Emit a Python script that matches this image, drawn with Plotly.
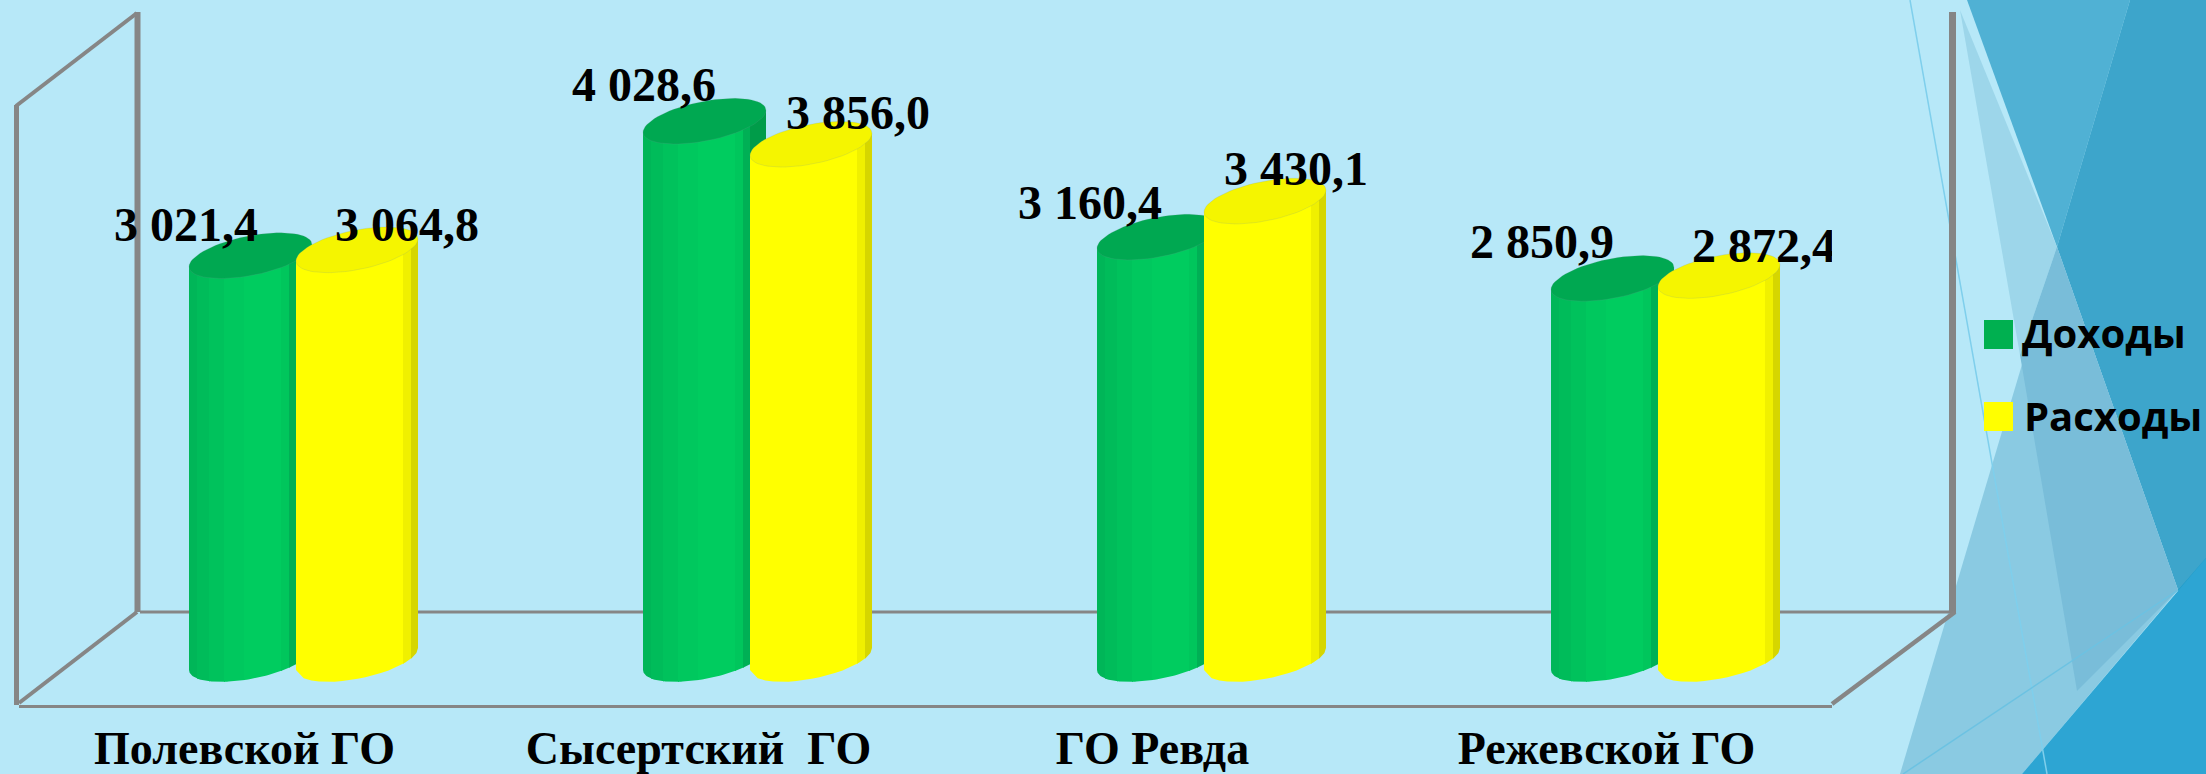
import math
import plotly.graph_objects as go

# ---------- data ----------
categories = ["Полевской ГО", "Сысертский  ГО", "ГО Ревда", "Режевской ГО"]
income = [3021.4, 4028.6, 3160.4, 2850.9]
expense = [3064.8, 3856.0, 3430.1, 2872.4]
income_labels = ["3 021,4", "4 028,6", "3 160,4", "2 850,9"]
expense_labels = ["3 064,8", "3 856,0", "3 430,1", "2 872,4"]
series_names = ["Доходы", "Расходы"]

# ---------- style / geometry (pixels of the 2206x774 page) ----------
W, H = 2206, 774
PL, PR, PT, PB = 19, 1832, 12, 705          # plot area
STEP = 454.0                                 # px per category
TICK0 = 244.5                                # px of first category
Y0_PX = 670.0                                # px of value 0
PX_PER_VAL = 0.1335

GREEN_BANDS = [(0, 8, "#00B658"), (8, 20, "#00BC5A"), (20, 35, "#00C25C"), (35, 55, "#00C85E"),
               (55, 92, "#00CC5F"), (92, 100, "#00C65C"), (100, 107, "#00B055"), (107, 123, "#009C49")]
YELLOW_BANDS = [(0, 107, "#FFFF00"), (107, 115, "#F0F000"), (115, 122, "#D6D600")]
GREEN_CAP, YELLOW_CAP = "#00A851", "#F5F500"
GREEN_LEFT, YELLOW_LEFT = -55.5, 51.5        # bar left edge vs tick, px
SHEAR, MINOR = 11.0, 20.0
INK = "#000000"
SERIF = "Liberation Serif"

GREEN_DX = [-58.5, -54.5, -62.5, -64.5]
YELLOW_DX = [162.5, 159.5, 143.5, 157.5]
GREEN_DY = [38, 43, 41, 43]
YELLOW_DY = [32, 38, 39, 37]


def xv(offset_px):
    return offset_px / STEP


def yv(offset_px):
    return offset_px / PX_PER_VAL


def rim(u, side):
    # px height above the left-corner level: centre is SHEAR above, tilts up to the right
    return SHEAR + SHEAR * u + side * MINOR * math.sqrt(max(0.0, 1 - u * u))


def band_polys(values, left, width, bands):
    traces = []
    for x1, x2, colour in bands:
        xs, ys = [], []
        x2o = min(x2 + 1, width)
        for i, v in enumerate(values):
            n = 14
            us = [-1 + 2 * (x1 + (x2o - x1) * k / n) / width for k in range(n + 1)]
            for u in us:
                xs.append(i + xv(left + (u + 1) * width / 2))
                ys.append(v + yv(SHEAR + SHEAR * u))
            for u in reversed(us):
                xs.append(i + xv(left + (u + 1) * width / 2))
                ys.append(yv(rim(u, -1)))
            xs.append(None)
            ys.append(None)
        traces.append(go.Scatter(x=xs, y=ys, mode="lines", fill="toself", fillcolor=colour,
                                 line=dict(width=0, color=colour), hoverinfo="skip", showlegend=False))
    return traces


def cap_trace(values, left, width, colour):
    xs, ys = [], []
    for i, v in enumerate(values):
        for k in range(73):
            t = 2 * math.pi * k / 72
            u, s = math.cos(t), math.sin(t)
            xs.append(i + xv(left + (u + 1) * width / 2))
            ys.append(v + yv(SHEAR + SHEAR * u + MINOR * s))
        xs.append(None)
        ys.append(None)
    return go.Scatter(x=xs, y=ys, mode="lines", fill="toself", fillcolor=colour,
                      line=dict(width=0.6, color="rgba(110,150,150,0.3)"),
                      hoverinfo="skip", showlegend=False)


def px(x):
    return (x - PL) / (PR - PL)


def py(y):
    return (PB - y) / (PB - PT)


def poly(points, colour):
    path = "M" + " L".join(f"{px(a):.5f},{py(b):.5f}" for a, b in points) + " Z"
    return dict(type="path", xref="paper", yref="paper", path=path, fillcolor=colour,
                line=dict(width=0), layer="below")


def seg(a, b, colour="#868686", width=3):
    return dict(type="line", xref="paper", yref="paper", x0=px(a[0]), y0=py(a[1]),
                x1=px(b[0]), y1=py(b[1]), line=dict(color=colour, width=width), layer="below")


fig = go.Figure()
for tr in band_polys(income, GREEN_LEFT, 123, GREEN_BANDS):
    fig.add_trace(tr)
fig.add_trace(cap_trace(income, GREEN_LEFT, 123, GREEN_CAP))
for tr in band_polys(expense, YELLOW_LEFT, 122, YELLOW_BANDS):
    fig.add_trace(tr)
fig.add_trace(cap_trace(expense, YELLOW_LEFT, 122, YELLOW_CAP))

idx = list(range(len(categories)))
fig.add_trace(go.Scatter(
    x=[i + xv(d) for i, d in zip(idx, GREEN_DX)] + [i + xv(d) for i, d in zip(idx, YELLOW_DX)],
    y=[v + yv(d) for v, d in zip(income, GREEN_DY)] + [v + yv(d) for v, d in zip(expense, YELLOW_DY)],
    text=income_labels + expense_labels, mode="text", textposition="middle center",
    textfont=dict(family=SERIF, size=48, color=INK, weight="bold"),
    hoverinfo="skip", showlegend=False))

shapes = [
    # decorative page background, right side
    poly([(1967, 0), (2130, 0), (2057, 247)], "#50B1D4"),
    poly([(2130, 0), (2206, 0), (2206, 661), (2178, 590), (2057, 247)], "#3DA5CB"),
    poly([(1960, 10), (2057, 247), (2020, 355)], "#9DD6EA"),
    poly([(2057, 247), (2178, 590), (2022, 774), (1900, 774)], "#8ACAE2"),
    poly([(2020, 355), (2057, 247), (2178, 590), (2077, 691)], "#79BDD9"),
    poly([(2178, 590), (2206, 558), (2206, 661)], "#1E9CC9"),
    poly([(2022, 774), (2206, 558), (2206, 774)], "#2DA5D3"),
    seg((1910, 0), (2047, 774), "#7FCFEC", 1.5),
    seg((1903, 774), (2178, 590), "#6CC2E2", 1.5),
    # chart walls and floor
    seg((137.5, 12), (137.5, 612), "#868686", 6),
    seg((16.5, 105), (16.5, 705), "#868686", 5),
    seg((16, 106), (137, 13), "#868686", 4),
    seg((19, 703), (137, 612), "#868686", 4),
    seg((140, 612), (1950, 612), "#868686", 3),
    seg((1952.5, 12), (1952.5, 613), "#858585", 7),
    seg((1955, 612), (1832, 704), "#868686", 4.5),
    # legend swatches
    dict(type="rect", xref="paper", yref="paper", x0=px(1984), x1=px(2013), y0=py(349), y1=py(320),
         fillcolor="#00B050", line=dict(width=0), layer="above"),
    dict(type="rect", xref="paper", yref="paper", x0=px(1984), x1=px(2013), y0=py(431), y1=py(402),
         fillcolor="#FFFF00", line=dict(width=0), layer="above"),
]

annotations = [
    dict(xref="paper", yref="paper", x=px(2020), y=py(332), text=f"<b>{series_names[0]}</b>", showarrow=False,
         xanchor="left", yanchor="middle", font=dict(family="Open Sans", size=40, color=INK)),
    dict(xref="paper", yref="paper", x=px(2022), y=py(415), text=f"<b>{series_names[1]}</b>", showarrow=False,
         xanchor="left", yanchor="middle", font=dict(family="Open Sans", size=40, color=INK)),
]

fig.update_layout(
    width=W, height=H, autosize=False,
    margin=dict(l=PL, r=W - PR, t=PT, b=H - PB, pad=0, autoexpand=False),
    paper_bgcolor="#B7E8F8", plot_bgcolor="rgba(0,0,0,0)",
    showlegend=False, shapes=shapes, annotations=annotations,
    xaxis=dict(range=[(PL - TICK0) / STEP, (PR - TICK0) / STEP], tickmode="array", tickvals=idx,
               ticktext=[f"<b>{c}</b>" for c in categories], showgrid=False, zeroline=False,
               automargin=False,
               showline=True, linecolor="#868686", linewidth=3, ticks="", ticklabelstandoff=1,
               tickfont=dict(family=SERIF, size=46, color=INK)),
    yaxis=dict(range=[(Y0_PX - PB) / PX_PER_VAL, (Y0_PX - PT) / PX_PER_VAL], visible=False,
               automargin=False),
)
fig.write_html("out.html", config={"displayModeBar": False},
               post_script="document.body.style.margin='0';document.body.style.overflow='hidden';")
